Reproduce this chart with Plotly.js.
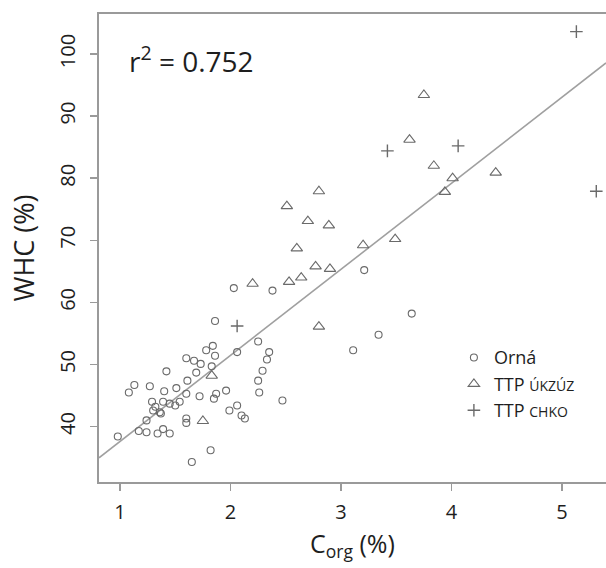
<!DOCTYPE html>
<html>
<head>
<meta charset="utf-8">
<script src="https://cdn.plot.ly/plotly-3.0.1.min.js"></script>
<style>html,body{margin:0;padding:0;background:#fff;}#chart{width:606px;height:568px;}</style>
</head>
<body>
<div id="chart"></div>
<script>
// Orná (arable)
const ornaX = [2.03, 2.38, 3.21, 3.64, 3.34, 3.11, 2.25, 2.35, 2.33, 2.29, 2.25, 2.26, 2.47, 2.06,
  1.86, 1.84, 1.86, 1.78, 1.83, 1.60, 1.67, 1.73, 1.42, 1.69, 1.61, 1.13, 1.08, 1.27, 1.40, 1.51,
  1.60, 1.72, 1.85, 1.87, 1.96, 1.29, 1.32, 1.30, 1.36, 1.39, 1.45, 1.50, 1.54, 1.37, 2.06, 1.99,
  2.10, 2.13, 1.24, 1.60, 1.60, 0.98, 1.17, 1.24, 1.34, 1.39, 1.45, 1.82, 1.65];
const ornaY = [62.3, 61.9, 65.2, 58.2, 54.8, 52.3, 53.7, 52.0, 50.8, 49.0, 47.4, 45.5, 44.2, 52.0,
  57.0, 53.0, 51.4, 52.3, 49.7, 51.0, 50.6, 50.1, 48.9, 48.7, 47.4, 46.7, 45.5, 46.5, 45.7, 46.2,
  45.3, 44.9, 44.5, 45.3, 45.8, 44.0, 43.2, 42.6, 42.3, 44.0, 43.7, 43.4, 44.0, 42.1, 43.4, 42.6,
  41.8, 41.3, 41.0, 41.3, 40.6, 38.4, 39.3, 39.1, 38.9, 39.6, 38.9, 36.2, 34.3];

// TTP ÚKZÚZ
const ukzuzX = [3.75, 3.62, 3.84, 4.01, 3.94, 4.40, 2.80, 2.51, 2.70, 2.89, 2.60, 3.20, 3.49,
  2.77, 2.90, 2.64, 2.53, 2.20, 2.80, 1.83, 1.75];
const ukzuzY = [93.4, 86.2, 82.0, 80.0, 77.8, 80.9, 77.9, 75.5, 73.1, 72.4, 68.7, 69.2, 70.2,
  65.8, 65.4, 64.0, 63.3, 63.0, 56.1, 48.2, 40.9];

// TTP CHKO
const chkoX = [5.13, 3.42, 4.06, 5.31, 2.06];
const chkoY = [103.6, 84.4, 85.2, 77.9, 56.2];

// regression fit
const fitSlope = 13.86;
const fitIntercept = 23.75;
const rSquared = "0.752";

// axes
const xTicks = [1, 2, 3, 4, 5];
const yTicks = [40, 50, 60, 70, 80, 90, 100];
const xRange = [0.81, 5.398];
const yRange = [31.08, 106.44];

const ptColor = '#6a6a6a';
const axisColor = '#9a9a9a';
const textColor = '#1e1e1e';
const font = 'Open Sans, Noto Sans, sans-serif';

const traces = [
  {
    x: xRange, y: xRange.map(v => fitIntercept + fitSlope * v),
    mode: 'lines', line: {color: '#a0a0a0', width: 1.6},
    showlegend: false, hoverinfo: 'skip'
  },
  {
    x: ornaX, y: ornaY, mode: 'markers', name: 'Orná',
    marker: {symbol: 'circle-open', size: 7, color: ptColor, line: {width: 1.1, color: ptColor}}
  },
  {
    x: ukzuzX, y: ukzuzY, mode: 'markers',
    name: 'TTP <span style="font-size:14px">ÚKZÚZ</span>',
    marker: {symbol: 'triangle-up-open', size: 10, color: ptColor, line: {width: 1.1, color: ptColor}}
  },
  {
    x: chkoX, y: chkoY, mode: 'markers',
    name: 'TTP <span style="font-size:14px">CHKO</span>',
    marker: {symbol: 'cross-thin-open', size: 9, color: ptColor, line: {width: 1.4, color: ptColor}}
  }
];

const layout = {
  width: 606, height: 568,
  margin: {l: 99, r: 0, t: 14, b: 86},
  paper_bgcolor: '#fff', plot_bgcolor: '#fff',
  font: {family: font, color: textColor},
  showlegend: true,
  legend: {
    x: 0.700, y: 0.305, xanchor: 'left', yanchor: 'top',
    bgcolor: 'rgba(0,0,0,0)', font: {size: 18, color: textColor, family: font},
    itemwidth: 30, tracegroupgap: 0
  },
  xaxis: {
    range: xRange, tickvals: xTicks, ticktext: xTicks.map(String),
    ticks: 'outside', ticklen: 7, tickwidth: 1.5, tickcolor: axisColor,
    ticklabelstandoff: 4,
    showline: true, linecolor: axisColor, linewidth: 2, mirror: true,
    showgrid: false, zeroline: false,
    tickfont: {size: 20, color: textColor},
    title: {text: 'C<sub>org</sub> (%)', font: {size: 25, color: textColor}, standoff: 11}
  },
  yaxis: {
    range: yRange, tickvals: yTicks, ticktext: yTicks.map(String),
    tickangle: -90,
    ticks: 'outside', ticklen: 7, tickwidth: 1.5, tickcolor: axisColor,
    ticklabelstandoff: 7,
    showline: true, linecolor: axisColor, linewidth: 2,
    showgrid: false, zeroline: false,
    tickfont: {size: 20, color: textColor},
    title: {text: 'WHC (%)', font: {size: 27, color: textColor}, standoff: 12}
  },
  annotations: [{
    xref: 'paper', yref: 'paper', x: 0.055, y: 0.902,
    xanchor: 'left', yanchor: 'middle', showarrow: false,
    text: 'r<sup>2</sup> = ' + rSquared,
    font: {size: 28, color: textColor, family: font}
  }]
};

Plotly.newPlot('chart', traces, layout, {displayModeBar: false, staticPlot: true});
</script>
</body>
</html>
